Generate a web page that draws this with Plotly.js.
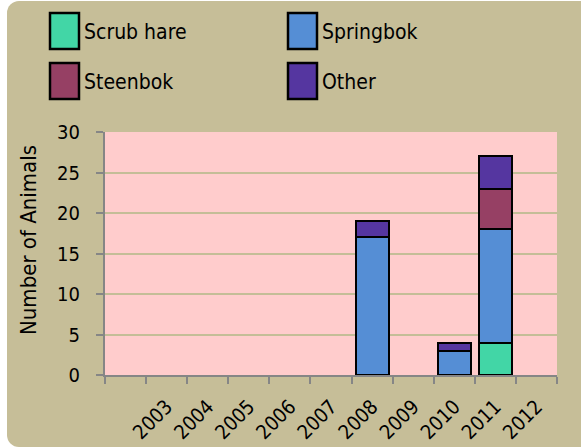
<!DOCTYPE html>
<html>
<head>
<meta charset="utf-8">
<script src="https://cdn.plot.ly/plotly-3.0.1.min.js"></script>
<style>
  html, body { margin: 0; padding: 0; background: #ffffff; overflow: hidden; width: 581px; height: 448px; }
  #frame { position: absolute; left: 7px; top: 1px; width: 600px; height: 446px;
           border-radius: 12px; overflow: hidden; background: #c6be98; }
  #chart { width: 600px; height: 446px; }
</style>
</head>
<body>
<div id="frame"><div id="chart"></div></div>
<script>
// ---- data ----
var categories = [" ", "2003", "2004", "2005", "2006", "2007", "2008", "2009", "2010", "2011", "2012"];
var years      = ["2003", "2004", "2005", "2006", "2007", "2008", "2009", "2010", "2011", "2012"];
var seriesNames  = ["Scrub hare", "Springbok", "Steenbok", "Other"];
var seriesColors = ["#42d6a6", "#558ed5", "#964064", "#5536a0"];
var scrubHare = [null, null, null, null, null, null, null, null, 4, null];
var springbok = [null, null, null, null, null, 17, null, 3, 14, null];
var steenbok  = [null, null, null, null, null, null, null, null, 5, null];
var other     = [null, null, null, null, null, 2, null, 1, 4, null];
var yTicks = [0, 5, 10, 15, 20, 25, 30];
var yTitle = "Number of Animals";

var seriesValues = [scrubHare, springbok, steenbok, other];

var W = 600, H = 446;
var M = {l: 98, r: 50, t: 131, b: 72};
var PW = W - M.l - M.r, PH = H - M.t - M.b;
function px2x(px) { return (px - M.l) / PW; }
function py2y(py) { return (M.t + PH - py) / PH; }

var FONT = "DejaVu Sans Condensed, DejaVu Sans";

var traces = seriesNames.map(function (name, i) {
  return {
    type: "bar",
    name: name,
    x: years,
    y: seriesValues[i],
    marker: { color: seriesColors[i], line: { color: "#000000", width: 2 } },
    hoverinfo: "none"
  };
});

// custom legend (squares + labels) laid out in two columns
var shapes = [], annotations = [];
var colX = [43, 281], rowY = [12, 62], boxW = 29, boxH = 36, textGap = 3;
seriesNames.forEach(function (name, i) {
  var c = i % 2, r = Math.floor(i / 2);
  var x0 = colX[c], y0 = rowY[r];
  shapes.push({
    type: "rect", xref: "paper", yref: "paper",
    x0: px2x(x0), x1: px2x(x0 + boxW), y0: py2y(y0 + boxH), y1: py2y(y0),
    fillcolor: seriesColors[i], line: { color: "#000000", width: 2.5 }
  });
  annotations.push({
    xref: "paper", yref: "paper", x: px2x(x0 + boxW + textGap), y: py2y(y0 + boxH / 2 + 1),
    xanchor: "left", yanchor: "middle", showarrow: false, text: name,
    font: { family: FONT, size: 21, color: "#000000" }
  });
});

// y-axis title (placed as rotated annotation to match the reference position)
annotations.push({
  xref: "paper", yref: "paper", x: px2x(21), y: py2y(239),
  xanchor: "center", yanchor: "middle", showarrow: false, textangle: -90,
  text: yTitle, font: { family: FONT, size: 22, color: "#000000" }
});

var layout = {
  width: W, height: H,
  margin: M,
  paper_bgcolor: "rgba(0,0,0,0)",
  plot_bgcolor: "#ffcccc",
  barmode: "stack",
  bargap: 0.2,
  showlegend: false,
  font: { family: FONT, size: 20, color: "#000000" },
  xaxis: {
    type: "category",
    categoryorder: "array",
    categoryarray: categories,
    range: [-0.5, categories.length - 0.5],
    tickson: "boundaries",
    ticks: "outside", ticklen: 7, tickwidth: 2, tickcolor: "#868686",
    showline: true, linecolor: "#868686", linewidth: 2,
    showgrid: false, zeroline: false,
    tickangle: -45,
    ticklabelstandoff: 10,
    tickfont: { family: FONT, size: 20, color: "#000000" },
    fixedrange: true
  },
  yaxis: {
    range: [0, 30],
    tickmode: "array", tickvals: yTicks,
    ticks: "outside", ticklen: 7, tickwidth: 2, tickcolor: "#868686",
    showline: true, linecolor: "#868686", linewidth: 2,
    showgrid: true, gridcolor: "#c4bd97", gridwidth: 2,
    zeroline: false,
    ticklabelstandoff: 12,
    tickfont: { family: FONT, size: 20, color: "#000000" },
    fixedrange: true
  },
  shapes: shapes,
  annotations: annotations
};

Plotly.newPlot("chart", traces, layout, { staticPlot: true, displayModeBar: false });
</script>
</body>
</html>
